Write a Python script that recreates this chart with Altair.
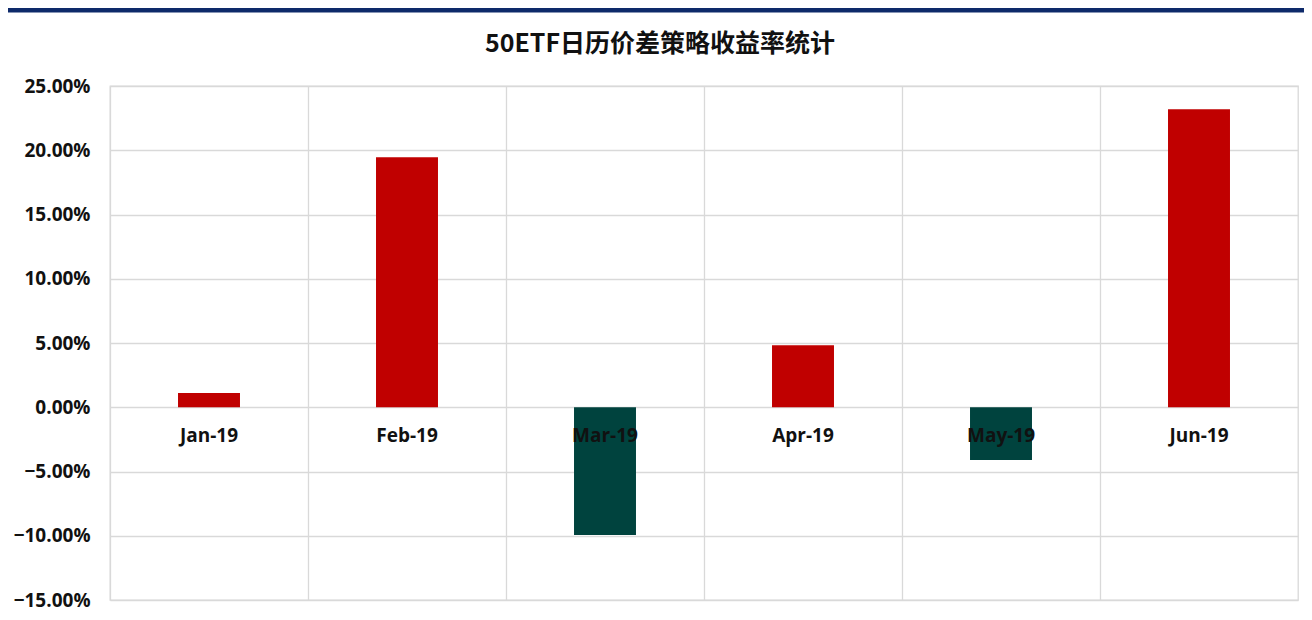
import altair as alt
import pandas as pd

months = ["Jan-19", "Feb-19", "Mar-19", "Apr-19", "May-19", "Jun-19"]
returns = [0.0110, 0.1945, -0.0995, 0.0482, -0.0410, 0.2320]
title_text = "50ETF日历价差策略收益率统计"
y_ticks = [-0.15, -0.10, -0.05, 0.0, 0.05, 0.10, 0.15, 0.20, 0.25]

df = pd.DataFrame({"month": months, "ret": returns, "zero": [0.0] * len(months)})

W, H = 1188, 514
LEFT, TOP, RIGHT, BOTTOM = 102, 78, 6, 12

x_enc = alt.X(
    "month:N",
    sort=months,
    scale=alt.Scale(paddingInner=0, paddingOuter=0),
    axis=alt.Axis(
        labels=False, ticks=False, domain=False, title=None,
        grid=True, bandPosition=0, gridColor="#d9d9d9", gridWidth=1.3,
    ),
)
y_scale = alt.Scale(domain=[-0.15, 0.25], nice=False, zero=False)

bars = alt.Chart(df).mark_bar(width=alt.RelativeBandSize(0.313)).encode(
    x=x_enc,
    y=alt.Y(
        "ret:Q",
        scale=y_scale,
        axis=alt.Axis(
            values=y_ticks, format=".2%", title=None, domain=False, ticks=False,
            grid=True, gridColor="#d9d9d9", gridWidth=1.3,
            labelFont="Open Sans", labelFontWeight="bold", labelFontSize=19,
            labelColor="#111111", labelPadding=20,
        ),
    ),
    color=alt.condition(alt.datum.ret >= 0, alt.value("#C00000"), alt.value("#00433E")),
)

labels = alt.Chart(df).mark_text(
    font="Open Sans", fontWeight="bold", fontSize=19, color="#111111",
    baseline="middle", dy=29,
).encode(
    x=alt.X("month:N", sort=months),
    y=alt.Y("zero:Q", scale=y_scale),
    text="month:N",
)

topline = alt.Chart(df.head(1)).mark_rule(color="#0E2A6A", strokeWidth=5).encode(
    x=alt.value(-LEFT - 1), x2=alt.value(W + RIGHT), y=alt.value(-76)
)

title = alt.Chart(pd.DataFrame({"t": [title_text]})).mark_text(
    font="Noto Sans CJK SC", fontSize=25, fontWeight="bold", color="#111111",
    align="center", baseline="alphabetic",
).encode(text="t:N", x=alt.value(550), y=alt.value(-34))

chart = alt.layer(bars, labels, topline, title).properties(
    width=W,
    height=H,
    autosize=alt.AutoSizeParams(type="none"),
    padding={"left": LEFT, "top": TOP, "right": RIGHT, "bottom": BOTTOM},
).configure_view(stroke="#d9d9d9", strokeWidth=1.3)

chart.save("out.html", embed_options={"renderer": "svg", "actions": False})
